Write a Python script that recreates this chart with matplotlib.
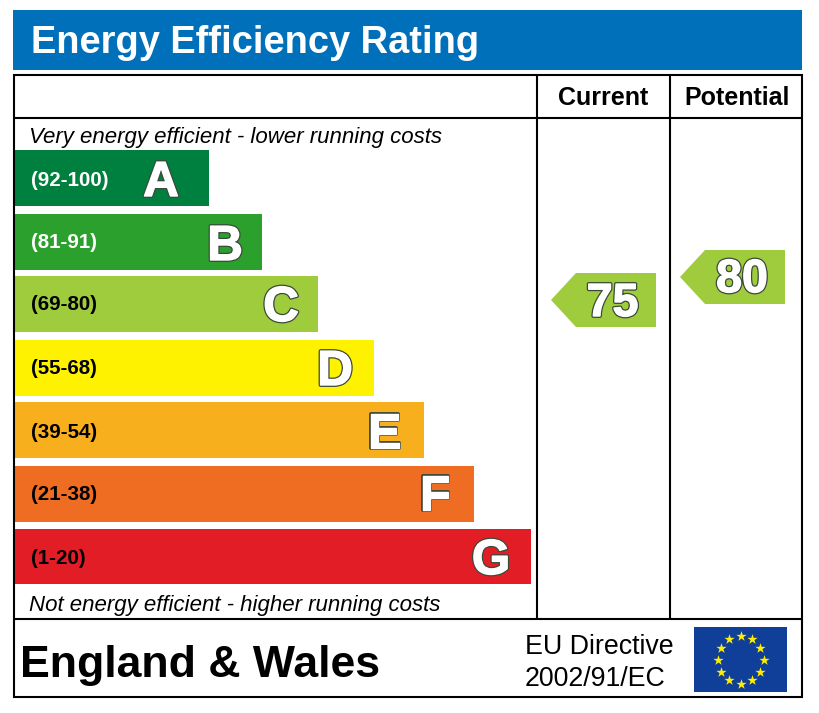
import numpy as np
import matplotlib
matplotlib.use("Agg")
import matplotlib.pyplot as plt
import matplotlib.patheffects as pe
from matplotlib.patches import Rectangle, Polygon

plt.rcParams['font.family'] = ['Liberation Sans', 'DejaVu Sans']

bands = ["(92-100)", "(81-91)", "(69-80)", "(55-68)", "(39-54)", "(21-38)", "(1-20)"]
letters = ["A", "B", "C", "D", "E", "F", "G"]
bar_right = [209, 262, 318, 374, 424, 474, 531]
bar_top = [150, 214, 276, 340, 402, 466, 529]
bar_bottom = [206, 270, 332, 396, 458, 522, 584]
colors = ["#00803E", "#2CA02C", "#9FCC3C", "#FFF200", "#F7AF1D", "#EF6C23", "#E31D25"]
band_text_colors = ["white", "white", "black", "black", "black", "black", "black"]
label_y = [181, 243, 305, 369, 433, 495, 559]
letter_x = [161, 225, 281, 335, 384, 435, 491]
letter_base = [196, 260, 321, 385, 448, 510, 574]
scores = [75, 80]
score_cols = ["Current", "Potential"]

fig = plt.figure(figsize=(8.19, 7.13), dpi=100)
ax = fig.add_axes([0, 0, 1, 1])
ax.set_xlim(0, 819)
ax.set_ylim(713, 0)
ax.axis("off")

ax.add_patch(Rectangle((13, 10), 789, 60, fc="#0070BA", ec="none"))
ax.text(31, 43, "Energy Efficiency Rating", color="white", fontsize=27.4, fontweight="bold",
        va="center", ha="left")

lw = 1.5
ax.add_patch(Rectangle((14, 74.5), 787.5, 622, fc="none", ec="black", lw=lw, zorder=5))
for xs, ys in [([14, 802], [118, 118]), ([14, 802], [619, 619]),
               ([537, 537], [74, 619]), ([670, 670], [74, 619])]:
    ax.plot(xs, ys, color="black", lw=lw, zorder=5, solid_capstyle="butt")

ax.text(603.5, 98, score_cols[0], fontsize=18, fontweight="bold", ha="center", va="center")
ax.text(737.5, 98, score_cols[1], fontsize=18, fontweight="bold", ha="center", va="center")

ax.text(29, 137, "Very energy efficient - lower running costs", fontsize=16, style="italic",
        ha="left", va="center")
ax.text(29, 606, "Not energy efficient - higher running costs", fontsize=16, style="italic",
        ha="left", va="center")

outline = [pe.Stroke(linewidth=2.8, foreground="#3a4a3a"),
           pe.Stroke(linewidth=1.0, foreground="white"), pe.Normal()]
for i in range(len(bands)):
    ax.barh((bar_top[i] + bar_bottom[i]) / 2, bar_right[i] - 15, height=bar_bottom[i] - bar_top[i],
            left=15, color=colors[i], edgecolor="none", zorder=2)
    ax.text(31, label_y[i], bands[i], color=band_text_colors[i], fontsize=14.8,
            fontweight="bold", ha="left", va="center", zorder=3)
    ax.text(letter_x[i], letter_base[i], letters[i], color="white", fontsize=35.5, fontweight="bold",
            ha="center", va="baseline", zorder=3, path_effects=outline)

arrow_left = [551, 680]
arrow_right = [656, 785]
arrow_top = [273, 250]
arrow_bottom = [327, 304]
number_x = [612.5, 742]
number_base = [316, 292]
for i in range(2):
    mid = (arrow_top[i] + arrow_bottom[i]) / 2
    ax.add_patch(Polygon([(arrow_left[i], mid), (arrow_left[i] + 25, arrow_top[i]),
                          (arrow_right[i], arrow_top[i]), (arrow_right[i], arrow_bottom[i]),
                          (arrow_left[i] + 25, arrow_bottom[i])],
                         closed=True, fc="#9FCC3C", ec="none", zorder=2))
    ax.text(number_x[i], number_base[i], str(scores[i]), color="white",
            fontsize=33.5, fontweight="bold", ha="center", va="baseline", zorder=3, path_effects=outline)

ax.text(20, 677, "England & Wales", fontsize=32.1, fontweight="bold", ha="left", va="baseline")
ax.text(525, 654, "EU Directive", fontsize=19.3, ha="left", va="baseline")
ax.text(525, 686, "2002/91/EC", fontsize=19.3, ha="left", va="baseline")

ax.add_patch(Rectangle((694, 627), 93, 65, fc="#103F99", ec="none"))
angles = np.deg2rad(np.arange(0, 360, 30))
ax.scatter(740.5 + 23 * np.sin(angles), 659.5 - 24 * np.cos(angles), marker="*", s=60, c="#FFED00",
           linewidths=0, zorder=3)

fig.savefig("out.png", dpi=100)
